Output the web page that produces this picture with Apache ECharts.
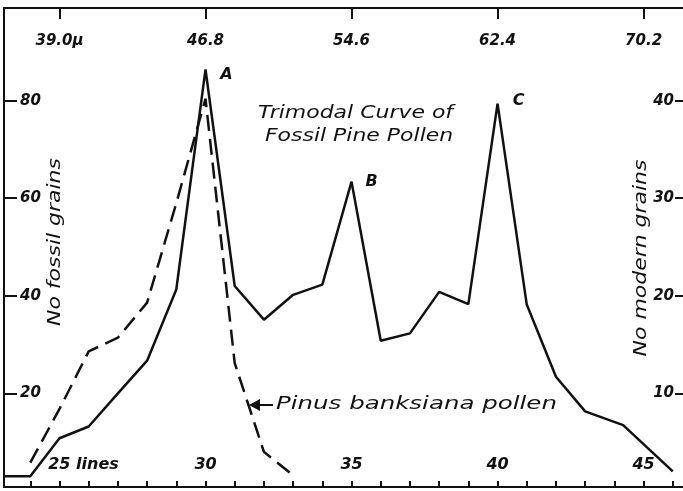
<!DOCTYPE html>
<html>
<head>
<meta charset="utf-8">
<script src="https://cdn.jsdelivr.net/npm/echarts@6/dist/echarts.min.js"></script>
<style>
  html, body { margin: 0; padding: 0; background: #fff; }
  #chart { width: 683px; height: 491px; }
</style>
</head>
<body>
<div id="chart"></div>
<script>
// fossil pine pollen (left axis), x in ocular "lines"
var fossilLines = [23.1, 24, 25, 26, 27, 28, 29, 30, 31, 32, 33, 34, 35, 36, 37, 38, 39, 40, 41, 42, 43, 44.3, 46];
var fossilGrains = [3, 3, 10.8, 13.2, 20, 26.7, 41.3, 86.4, 42, 35.1, 40.2, 42.3, 63.4, 30.8, 32.3, 40.8, 38.3, 79.4, 38.2, 23.4, 16.3, 13.5, 4];

// modern Pinus banksiana pollen (right axis)
var modernLines = [24, 25, 26, 27, 28, 29, 30, 31, 32, 33];
var modernGrains = [2.9, 8.4, 14.3, 15.7, 19.3, 29.5, 40.2, 13.1, 4.0, 1.6];

var bottomTicks = [24, 25, 26, 27, 28, 29, 30, 31, 32, 33, 34, 35, 36, 37, 38, 39, 40, 41, 42, 43, 44, 45, 46];
var bottomLabels = [25, 30, 35, 40, 45];
var topLabels = ['39.0\u03bc', '46.8', '54.6', '62.4', '70.2'];
var leftTicks = [20, 40, 60, 80];
var rightTicks = [10, 20, 30, 40];
var peakNames = ['A', 'B', 'C'];
var peakLines = [30, 35, 40];

var FONT = 'DejaVu Sans';
var labelStyle = { fontFamily: FONT, fontStyle: 'italic', fontWeight: 'bold', fontSize: 15, color: '#111' };

function pairs(xs, ys) {
	return xs.map(function(x, i) { return [x, ys[i]]; });
}

var peakOffsets = [[21, 5], [20, 0], [21, -3]];
var peaks = peakNames.map(function(n, i) {
	var idx = fossilLines.indexOf(peakLines[i]);
	return {
		coord: [peakLines[i], fossilGrains[idx]],
		label: { formatter: n, offset: peakOffsets[i] }
	};
});

var chart = echarts.init(document.getElementById('chart'));
var option = {
	backgroundColor: '#fff',
	animation: false,
	grid: { left: 4, right: 0, top: 8, bottom: 4 },
	xAxis: [{
		type: 'value',
		position: 'bottom',
		min: 23.1,
		max: 46.35,
		splitLine: { show: false },
		axisLine: { lineStyle: { color: '#111', width: 2 } },
		axisTick: { inside: true, length: 6, customValues: bottomTicks, lineStyle: { color: '#111', width: 2 } },
		axisLabel: Object.assign({
			inside: true,
			margin: 14,
			customValues: bottomLabels,
			formatter: function(v) { return v === 25 ? '{p|}25 lines' : String(v); },
			rich: { p: { width: 48 } }
		}, labelStyle, { fontSize: 16 })
	}, {
		type: 'value',
		position: 'top',
		min: 23.1,
		max: 46.35,
		splitLine: { show: false },
		axisLine: { lineStyle: { color: '#111', width: 2 } },
		axisTick: { inside: true, length: 11, customValues: bottomLabels, lineStyle: { color: '#111', width: 2 } },
		axisLabel: Object.assign({
			inside: true,
			margin: 26,
			customValues: bottomLabels,
			formatter: function(v) { return topLabels[bottomLabels.indexOf(v)]; }
		}, labelStyle)
	}],
	yAxis: [{
		type: 'value',
		position: 'left',
		min: 0.8,
		max: 99,
		splitLine: { show: false },
		axisLine: { show: true, lineStyle: { color: '#111', width: 2 } },
		axisTick: { show: true, inside: true, length: 13, customValues: leftTicks, lineStyle: { color: '#111', width: 2 } },
		axisLabel: Object.assign({ inside: true, margin: 16, customValues: leftTicks }, labelStyle)
	}, {
		type: 'value',
		position: 'right',
		min: 0.4,
		max: 49.5,
		splitLine: { show: false },
		axisLine: { show: false },
		axisTick: { show: true, inside: true, length: 8, customValues: rightTicks, lineStyle: { color: '#111', width: 2 } },
		axisLabel: Object.assign({ inside: true, margin: 9, customValues: rightTicks }, labelStyle)
	}],
	series: [{
		name: 'fossil',
		type: 'line',
		xAxisIndex: 0,
		yAxisIndex: 0,
		data: pairs(fossilLines, fossilGrains),
		showSymbol: false,
		lineStyle: { color: '#111', width: 2.5 },
		markPoint: {
			symbol: 'circle',
			symbolSize: 0,
			label: Object.assign({ show: true, position: 'inside' }, labelStyle, { fontSize: 16 }),
			data: peaks
		}
	}, {
		name: 'modern',
		type: 'line',
		xAxisIndex: 0,
		yAxisIndex: 1,
		data: pairs(modernLines, modernGrains),
		showSymbol: false,
		lineStyle: { color: '#111', width: 2.5, type: [16, 8] }
	}],
	graphic: [{
		type: 'text', x: 258, y: 102, scaleX: 1.22,
		style: { text: 'Trimodal Curve of\n Fossil Pine Pollen', font: 'italic 18px "DejaVu Sans"', fill: '#111', lineHeight: 23 }
	}, {
		type: 'text', x: 55, y: 242, rotation: Math.PI / 2, scaleX: 1.22,
		style: { text: 'No fossil grains', font: 'italic 18px "DejaVu Sans"', fill: '#111', align: 'center', verticalAlign: 'middle' }
	}, {
		type: 'text', x: 641, y: 258, rotation: Math.PI / 2, scaleX: 1.22,
		style: { text: 'No modern grains', font: 'italic 18px "DejaVu Sans"', fill: '#111', align: 'center', verticalAlign: 'middle' }
	}, {
		type: 'line',
		shape: { x1: 256, y1: 405, x2: 273, y2: 405 },
		style: { stroke: '#111', lineWidth: 2 }
	}, {
		type: 'polygon',
		shape: { points: [[249, 405], [260, 399], [260, 411]] },
		style: { fill: '#111' }
	}, {
		type: 'text', x: 276, y: 395, scaleX: 1.36,
		style: { text: 'Pinus banksiana pollen', font: 'italic 18px "DejaVu Sans"', fill: '#111' }
	}]
};
chart.setOption(option);
</script>
</body>
</html>
